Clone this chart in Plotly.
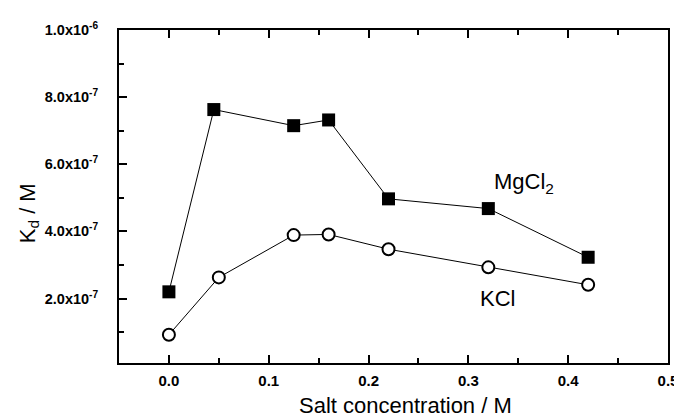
import plotly.graph_objects as go

salt_mg = [0.0, 0.045, 0.125, 0.16, 0.22, 0.32, 0.42]
kd_mg = [2.20e-7, 7.63e-7, 7.15e-7, 7.32e-7, 4.97e-7, 4.68e-7, 3.23e-7]
salt_k = [0.0, 0.05, 0.125, 0.16, 0.22, 0.32, 0.42]
kd_k = [0.92e-7, 2.63e-7, 3.89e-7, 3.91e-7, 3.47e-7, 2.93e-7, 2.41e-7]

x_ticks = [0.0, 0.1, 0.2, 0.3, 0.4, 0.5]
x_ticktext = ["0.0", "0.1", "0.2", "0.3", "0.4", "0.5"]
y_ticks = [2e-7, 4e-7, 6e-7, 8e-7, 1e-6]
y_ticktext = ["2.0x10<sup>-7</sup>", "4.0x10<sup>-7</sup>", "6.0x10<sup>-7</sup>",
              "8.0x10<sup>-7</sup>", "1.0x10<sup>-6</sup>"]

FONT = "Liberation Sans, Arial, sans-serif"

fig = go.Figure()
fig.add_trace(go.Scatter(
    x=salt_mg, y=kd_mg, mode="lines+markers",
    line=dict(color="black", width=1),
    marker=dict(symbol="square", size=13, color="black", line=dict(color="black", width=0)),
    showlegend=False, cliponaxis=False))
fig.add_trace(go.Scatter(
    x=salt_k, y=kd_k, mode="lines+markers",
    line=dict(color="black", width=1),
    marker=dict(symbol="circle", size=12, color="white", line=dict(color="black", width=2)),
    showlegend=False, cliponaxis=False))

fig.add_annotation(x=0.356, y=5.45e-7, text="MgCl<sub>2</sub>", showarrow=False,
                   font=dict(family=FONT, size=22, color="black"), xanchor="center", yanchor="middle")
fig.add_annotation(x=0.329, y=2.0e-7, text="KCl", showarrow=False,
                   font=dict(family=FONT, size=22, color="black"), xanchor="center", yanchor="middle")

# axis titles
fig.add_annotation(xref="paper", yref="paper", x=0.5215, y=-0.128, text="Salt concentration / M",
                   showarrow=False, xanchor="center", yanchor="middle",
                   font=dict(family=FONT, size=22, color="black"))
fig.add_annotation(xref="paper", yref="paper", x=-0.165, y=0.451, text="K<sub>d</sub> / M",
                   showarrow=False, xanchor="center", yanchor="middle", textangle=-90,
                   font=dict(family=FONT, size=22, color="black"))

fig.update_layout(
    width=682, height=417,
    margin=dict(l=111, r=13, t=18, b=62),
    paper_bgcolor="white", plot_bgcolor="white",
    font=dict(family=FONT, color="black"),
)
fig.update_xaxes(
    range=[-0.05, 0.5], tickvals=x_ticks, ticktext=x_ticktext,
    ticks="inside", ticklen=8, tickwidth=2, tickcolor="black",
    minor=dict(ticks="inside", ticklen=5, tickwidth=2, tickcolor="black", dtick=0.05, tick0=0, showgrid=False),
    showline=True, linecolor="black", linewidth=2, mirror="ticks",
    showgrid=False, zeroline=False, ticklabelstandoff=3,
    tickfont=dict(family=FONT, size=15, color="black", weight="bold"),
)
fig.update_yaxes(
    range=[0.08e-7, 1.0e-6], tickvals=y_ticks, ticktext=y_ticktext,
    ticks="inside", ticklen=8, tickwidth=2, tickcolor="black",
    minor=dict(ticks="inside", ticklen=5, tickwidth=2, tickcolor="black", dtick=1e-7, tick0=0, showgrid=False),
    showline=True, linecolor="black", linewidth=2, mirror=True,
    showgrid=False, zeroline=False, ticklabelstandoff=16,
    tickfont=dict(family=FONT, size=14.5, color="black", weight="bold"),
)

fig.write_html("out.html")
